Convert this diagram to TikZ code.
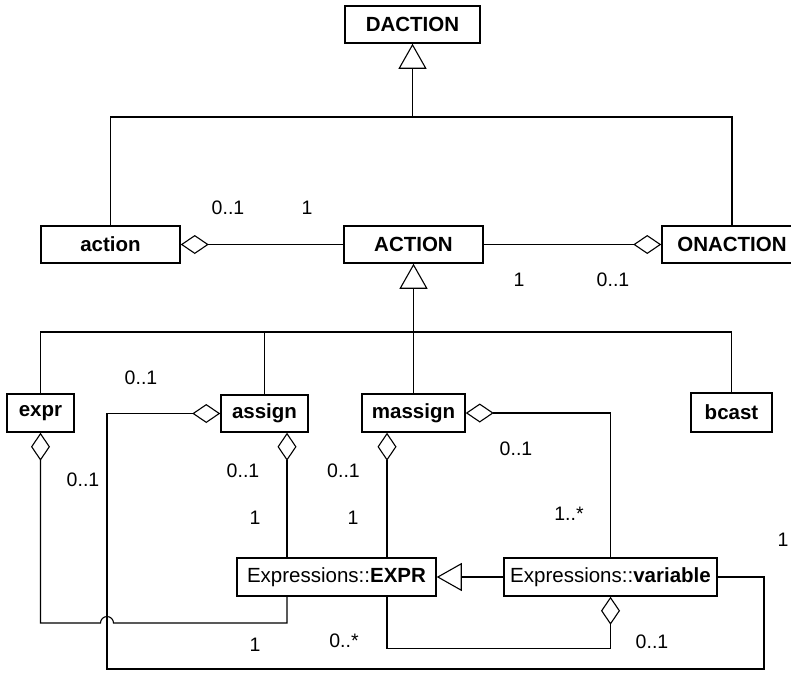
\documentclass[tikz,border=0pt]{standalone}
\usepackage{fontspec}
\setmainfont{Liberation Sans}
\usetikzlibrary{arrows.meta}
\begin{document}
\begin{tikzpicture}[x=1pt,y=1pt,
  cls/.style={draw, line width=1.5pt, inner sep=0pt, minimum height=37,
    font=\fontsize{20.5}{24}\selectfont\bfseries},
  qcls/.style={draw, line width=1.5pt, inner sep=0pt, minimum height=38,
    font=\fontsize{20.5}{24}\selectfont},
  mult/.style={inner sep=0pt, font=\fontsize{19.5}{23}\selectfont},
  conn/.style={line width=1.1pt},
  gen/.style={conn, -{Triangle[open, length=25, width=28, line width=1.1pt]}},
  aggs/.style={conn, {Diamond[open, length=28, width=19, line width=1.1pt]}-},
  agge/.style={conn, -{Diamond[open, length=28, width=19, line width=1.1pt]}}]
\clip (0,0) rectangle (791,-672);
\fill[white] (0,0) rectangle (791,-672);

% classes
\node[cls, minimum width=135] (daction) at (412.5,-24.5) {DACTION};
\node[cls, minimum width=139] (action) at (110.5,-244.5) {action};
\node[cls, minimum width=139] (actionc) at (413.5,-244.5) {ACTION};
\node[cls, minimum width=140] (onaction) at (732,-244.5) {ONACTION};
\node[cls, minimum width=67, minimum height=38] (expr) at (40.5,-413) {expr};
\node[cls, minimum width=87] (assign) at (264.5,-413.5) {assign};
\node[cls, minimum width=103, minimum height=38] (massign) at (413.5,-413) {massign};
\node[cls, minimum width=81, minimum height=39] (bcast) at (731.5,-412.5) {bcast};
\node[qcls, minimum width=199] (exprc) at (336.5,-577) {Expressions::\textbf{EXPR}};
\node[qcls, minimum width=213] (variable) at (610.5,-577) {Expressions::\textbf{variable}};

% helper points for the routed connectors
\coordinate (j1) at (412.5,-117);
\coordinate (j2) at (413.5,-332);
\coordinate (xa) at (287,0);
\coordinate (xb) at (387,0);
\coordinate (c1) at (107,-669);
\coordinate (c2) at (764,-669);
\coordinate (h1) at (100.5,-623);

% generalisation to DACTION
\draw[conn] (action.north) |- (j1) -| (onaction.north);
\draw[gen] (j1) -- (daction.south);

% generalisation to ACTION
\draw[conn] (expr.north) |- (j2) -| (bcast.north);
\draw[conn] (assign.north) -- (assign.north |- j2);
\draw[gen] (massign.north) -- (actionc.south);

% aggregations around ACTION
\draw[aggs] (action.east) -- (actionc.west);
\draw[agge] (actionc.east) -- (onaction.west);

% assign / variable
\draw[aggs] (assign.west) -| (c1) -- (c2) |- (variable.east);

% expr / EXPR, hopping over the assign line
\draw[aggs] (expr.south) |- (h1) arc[start angle=180, end angle=0, radius=6.5]
  -| (exprc.south -| xa);

% assign / EXPR and massign / EXPR
\draw[aggs] (assign.south -| xa) -- (exprc.north -| xa);
\draw[aggs] (massign.south -| xb) -- (exprc.north -| xb);

% massign / variable
\draw[aggs] (massign.east) -| (variable.north);

% variable specialises EXPR
\draw[gen] (variable.west) -- (exprc.east);

% variable / EXPR
\draw[aggs] (variable.south) -- ++(0,-52) -| (exprc.south -| xb);

% multiplicities
\node[mult] (m1) at (228,-208) {0..1};
\node[mult] (m2) at (307,-208) {1};
\node[mult] (m3) at (519,-280) {1};
\node[mult] (m4) at (613,-280) {0..1};
\node[mult] (m5) at (141,-378) {0..1};
\node[mult] (m6) at (83,-480) {0..1};
\node[mult] (m7) at (243,-471) {0..1};
\node[mult] (m8) at (255,-518) {1};
\node[mult] (m9) at (255,-645) {1};
\node[mult] (m10) at (343.5,-471) {0..1};
\node[mult] (m11) at (353,-518) {1};
\node[mult] (m12) at (516,-449) {0..1};
\node[mult] (m13) at (569,-514) {1..*};
\node[mult] (m14) at (344,-641) {0..*};
\node[mult] (m15) at (652,-642) {0..1};
\node[mult] (m16) at (783,-540) {1};
\end{tikzpicture}
\end{document}
